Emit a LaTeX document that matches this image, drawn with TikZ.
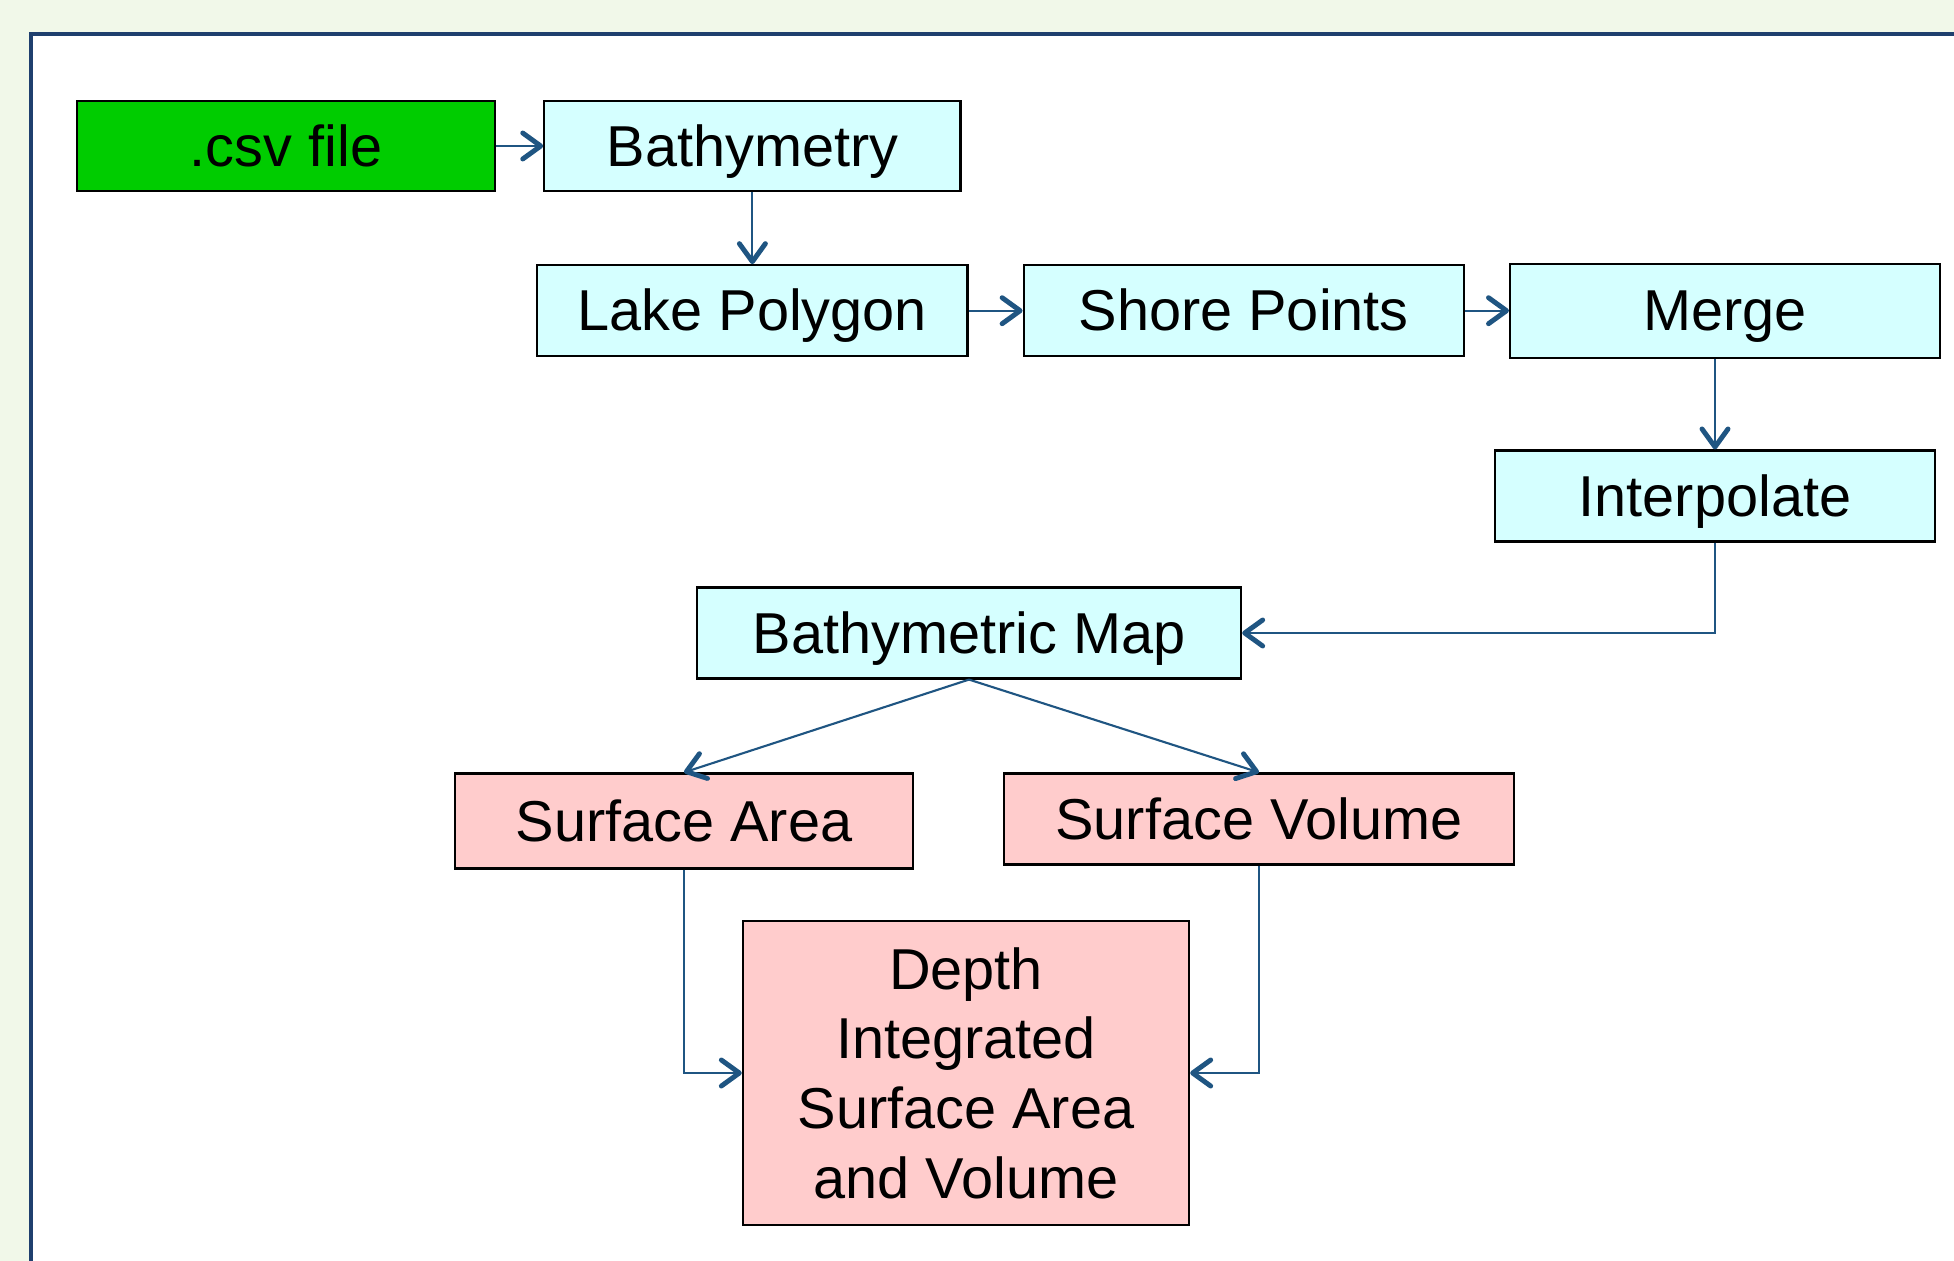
\documentclass[tikz,border=0pt]{standalone}
\usepackage{fontspec}
\setmainfont{Liberation Sans}
\usepackage{tikz}
\usetikzlibrary{positioning}
\usetikzlibrary{arrows.meta}

\definecolor{pagebg}{HTML}{F1F8E9}
\definecolor{frameline}{HTML}{1F3F6E}
\definecolor{flowline}{HTML}{1F5582}
\definecolor{inputgreen}{HTML}{00CC00}
\definecolor{stepcyan}{HTML}{D5FFFF}
\definecolor{resultpink}{HTML}{FFCCCC}

\begin{document}
\begin{tikzpicture}[>={Straight Barb[length=1.8mm,width=2.6mm,line width=1.4pt,round]},x=0.01cm,y=-0.01cm,
  box/.style={draw=black,line width=0.6pt,inner sep=0pt,font=\fontsize{16.4}{19.8}\selectfont},
  oneline/.style={text height=11.4pt,text depth=0pt},
  input/.style={box,oneline,fill=inputgreen},
  proc/.style={box,oneline,fill=stepcyan},
  result/.style={box,fill=resultpink},
  flow/.style={->,draw=flowline,line width=0.6pt}]
  \clip (0,0) rectangle (1954,1261);
  \fill[pagebg] (0,0) rectangle (1954,1261);
  \draw[frameline,line width=0.9pt,fill=white] (31,34) rectangle (2000,1300);

  \node[input,minimum width=4.18cm,minimum height=0.9cm]  (csv)         at (286,146)          {.csv file};
  \node[proc,minimum width=4.16cm,minimum height=0.9cm]   (Bathymetry)  [right=0.47cm of csv]  {Bathymetry};
  \node[proc,minimum width=4.3cm,minimum height=0.91cm]   (Lake)        [below=0.72cm of Bathymetry] {Lake Polygon};
  \node[proc,minimum width=4.4cm,minimum height=0.91cm]   (Shore)       [right=0.54cm of Lake] {Shore Points};
  \node[proc,minimum width=4.3cm,minimum height=0.94cm]   (Merge)       [right=0.44cm of Shore] {Merge};
  \node[proc,minimum width=4.4cm,minimum height=0.91cm]   (Interpolate) at (1715,496)         {Interpolate};
  \node[proc,minimum width=5.44cm,minimum height=0.91cm]  (Map)         at (969,633)          {Bathymetric Map};
  \node[result,oneline,minimum width=4.57cm,minimum height=0.95cm] (Area)   at (684,821)    {Surface Area};
  \node[result,oneline,minimum width=5.1cm,minimum height=0.91cm]  (Volume) at (1259,819)   {Surface Volume};
  \node[result,align=center,minimum width=4.46cm,minimum height=3.03cm] (Depth) at (966,1073) {Depth\\Integrated\\Surface Area\\and Volume};

  \draw[flow] (csv) -- (Bathymetry);
  \draw[flow] (Bathymetry) -- (Lake);
  \draw[flow] (Lake) -- (Shore);
  \draw[flow] (Shore) -- (Merge);
  \draw[flow] (Merge.south -| Interpolate.north) -- (Interpolate.north);
  \draw[flow] (Interpolate.south) |- (Map.east);
  \draw[flow] (Map.south) -- (Area.north);
  \draw[flow] (Map.south) -- (Volume.north);
  \draw[flow] (Area.south) |- (Depth.west);
  \draw[flow] (Volume.south) |- (Depth.east);
\end{tikzpicture}
\end{document}
